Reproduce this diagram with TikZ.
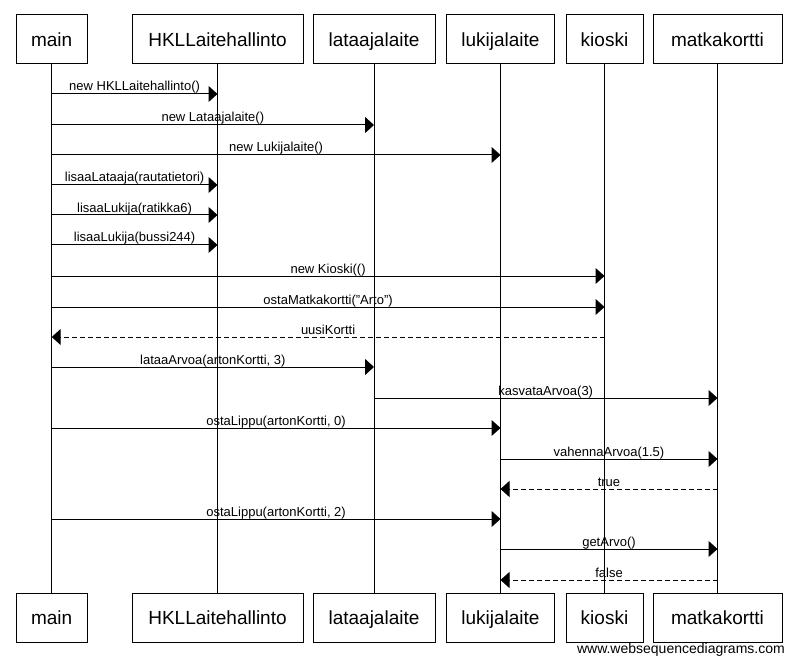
\documentclass[tikz,border=0pt]{standalone}
\usepackage{fontspec}
\setmainfont{Liberation Sans}
\usetikzlibrary{arrows.meta}
\tikzset{
  part/.style={draw=black, line width=1pt, minimum height=49pt, inner sep=0pt,
    text height=13.5pt, text depth=0pt,
    font=\fontsize{19}{22}\selectfont},
  life/.style={line width=1pt},
  call/.style={line width=1pt, -{Triangle[length=9pt,width=16pt]}},
  ret/.style={line width=1pt, dash pattern=on 5pt off 3pt, -{Triangle[length=9pt,width=16pt]}},
  lbl/.style={midway, anchor=base, yshift=3pt, inner sep=0pt, font=\fontsize{13}{15}\selectfont},
}
\newcommand\seqmsg[5]{\draw[#1] (#2T.south |- 0,#4) -- node[lbl]{#5} (#3T.south |- 0,#4);}
\begin{document}
\begin{tikzpicture}[x=1pt,y=-1pt]
\useasboundingbox (0,0) rectangle (796,666);
% top participants
\node[part, minimum width=71pt]  (mainT) at (51.7,39.5) {main};
\node[part, minimum width=171pt] (hklT)  at (217.5,39.5) {HKLLaitehallinto};
\node[part, minimum width=122pt] (latT)  at (374,39.5) {lataajalaite};
\node[part, minimum width=108pt] (lukT)  at (500.5,39.5) {lukijalaite};
\node[part, minimum width=77pt]  (kioT)  at (604.5,39.5) {kioski};
\node[part, minimum width=129pt] (matT)  at (717.5,39.5) {matkakortti};
% bottom participants
\node[part, minimum width=71pt]  (mainB) at (51.7,617.5) {main};
\node[part, minimum width=171pt] (hklB)  at (217.5,617.5) {HKLLaitehallinto};
\node[part, minimum width=122pt] (latB)  at (374,617.5) {lataajalaite};
\node[part, minimum width=108pt] (lukB)  at (500.5,617.5) {lukijalaite};
\node[part, minimum width=77pt]  (kioB)  at (604.5,617.5) {kioski};
\node[part, minimum width=129pt] (matB)  at (717.5,617.5) {matkakortti};
% lifelines
\foreach \p in {main,hkl,lat,luk,kio,mat}{
  \draw[life] (\p T.south) -- (\p B.north);
}
% messages
\seqmsg{call}{main}{hkl}{94}{new HKLLaitehallinto()}
\seqmsg{call}{main}{lat}{125}{new Lataajalaite()}
\seqmsg{call}{main}{luk}{155}{new Lukijalaite()}
\seqmsg{call}{main}{hkl}{185}{lisaaLataaja(rautatietori)}
\seqmsg{call}{main}{hkl}{215}{lisaaLukija(ratikka6)}
\seqmsg{call}{main}{hkl}{245}{lisaaLukija(bussi244)}
\seqmsg{call}{main}{kio}{276}{new Kioski(()}
\seqmsg{call}{main}{kio}{307}{ostaMatkakortti("Arto")}
\seqmsg{ret}{kio}{main}{337}{uusiKortti}
\seqmsg{call}{main}{lat}{367}{lataaArvoa(artonKortti, 3)}
\seqmsg{call}{lat}{mat}{398}{kasvataArvoa(3)}
\seqmsg{call}{main}{luk}{428}{ostaLippu(artonKortti, 0)}
\seqmsg{call}{luk}{mat}{459}{vahennaArvoa(1.5)}
\seqmsg{ret}{mat}{luk}{489}{true}
\seqmsg{call}{main}{luk}{519}{ostaLippu(artonKortti, 2)}
\seqmsg{call}{luk}{mat}{549}{getArvo()}
\seqmsg{ret}{mat}{luk}{580}{false}
% footer
\node[anchor=base east, inner sep=0pt, font=\fontsize{14}{16}\selectfont] (foot) at (785,653) {www.websequencediagrams.com};
\end{tikzpicture}
\end{document}
